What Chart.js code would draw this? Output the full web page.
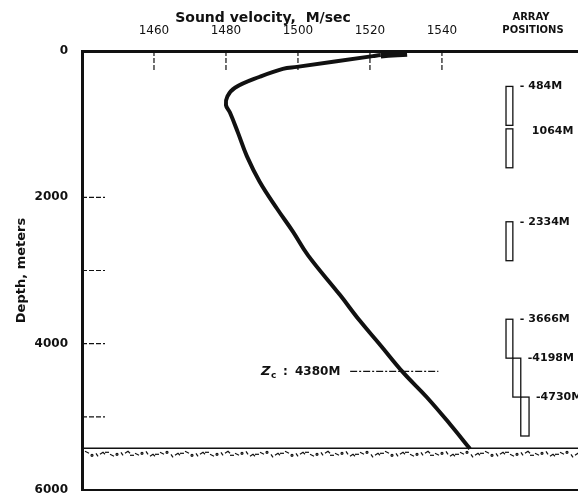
<!DOCTYPE html>
<html>
<head>
<meta charset="utf-8">
<script src="https://cdn.jsdelivr.net/npm/chart.js@4.4.1/dist/chart.umd.min.js"></script>
<style>
  html, body { margin: 0; padding: 0; background: #fff; }
</style>
</head>
<body>
<canvas id="profile" width="578" height="493"></canvas>
<script>
// Sound velocity profile
const velocity = [1530.3, 1523, 1520.8, 1499.7, 1495.8, 1489.4, 1482.5, 1480.4, 1480.0, 1481.1,
  1483.3, 1485.8, 1489.4, 1494.2, 1498.6, 1502.8, 1511.7, 1517.2, 1522.8, 1529.2,
  1535.8, 1542.2, 1547.8];
const depth = [30, 55, 70, 217, 244, 352, 502, 620, 740, 841,
  1112, 1437, 1790, 2156, 2468, 2793, 3336, 3688, 4014, 4393,
  4732, 5098, 5437];

const velocityTicks = [1460, 1480, 1500, 1520, 1540];
const depthTicks = [0, 2000, 4000, 6000];
const depthMarks = [2000, 3000, 4000, 5000];

// Hydrophone array positions (top depth of each section)
const arrayTops = [484, 1064, 2334, 3666, 4198, 4730];
const arrayLength = 532;
const arrayLabels = ['- 484M', '1064M', '- 2334M', '- 3666M', '-4198M', '-4730M'];

const criticalDepth = 4380;
const criticalLabel = '4380M';
const seafloorDepth = 5430;

const INK = '#111';
const FONT = "'DejaVu Sans', sans-serif";

const decor = {
  id: 'decor',
  beforeDatasetsDraw(chart) {
    const { ctx, chartArea: a, scales: { y } } = chart;
    // sea floor line with sediment stipple
    const fy = y.getPixelForValue(seafloorDepth);
    ctx.save();
    ctx.strokeStyle = INK;
    ctx.lineWidth = 1.5;
    ctx.beginPath();
    ctx.moveTo(a.left, fy);
    ctx.lineTo(a.right, fy);
    ctx.stroke();
    ctx.lineWidth = 1.2;
    for (let px = a.left + 3, k = 0; px < a.right; px += 5, k++) {
      const h = (k * 7) % 5;
      const oy = fy + 3 + ((k * 3) % 4);
      ctx.beginPath();
      if (h === 0) { ctx.moveTo(px, oy); ctx.lineTo(px + 4, oy + 2); }
      else if (h === 1) { ctx.moveTo(px, oy + 2); ctx.lineTo(px + 3, oy); ctx.lineTo(px + 5, oy + 2); }
      else if (h === 2) { ctx.arc(px + 2, oy + 1, 1, 0, Math.PI * 2); }
      else if (h === 3) { ctx.moveTo(px, oy + 1); ctx.lineTo(px + 4, oy + 1); }
      else { ctx.moveTo(px + 1, oy); ctx.lineTo(px + 3, oy + 3); }
      ctx.stroke();
    }
    ctx.restore();
  },
  afterDraw(chart) {
    const { ctx, chartArea: a, scales: { x, y } } = chart;
    ctx.save();
    ctx.strokeStyle = INK;
    ctx.fillStyle = INK;

    // bottom frame line
    ctx.lineWidth = 2;
    ctx.beginPath();
    ctx.moveTo(a.left - 1, a.bottom);
    ctx.lineTo(a.right, a.bottom);
    ctx.stroke();

    // inward tick marks
    ctx.lineWidth = 1.2;
    ctx.setLineDash([5, 2]);
    velocityTicks.forEach((v) => {
      const px = x.getPixelForValue(v);
      ctx.beginPath();
      ctx.moveTo(px, a.top);
      ctx.lineTo(px, a.top + 20);
      ctx.stroke();
    });
    depthMarks.forEach((d) => {
      const py = y.getPixelForValue(d);
      ctx.beginPath();
      ctx.moveTo(a.left, py);
      ctx.lineTo(a.left + 23, py);
      ctx.stroke();
    });

    // critical depth marker
    const zy = y.getPixelForValue(criticalDepth);
    ctx.setLineDash([7, 2, 2, 2]);
    ctx.beginPath();
    ctx.moveTo(x.getPixelForValue(1514.5), zy);
    ctx.lineTo(x.getPixelForValue(1539), zy);
    ctx.stroke();
    ctx.setLineDash([]);
    ctx.textBaseline = 'middle';
    ctx.textAlign = 'left';
    ctx.font = `italic bold 13px ${FONT}`;
    ctx.fillText('Z', 261, zy);
    ctx.font = `bold 9px ${FONT}`;
    ctx.fillText('c', 271, zy + 4);
    ctx.font = `bold 12px ${FONT}`;
    ctx.fillText(':', 283, zy);
    ctx.fillText(criticalLabel, 295, zy);

    // axis title
    ctx.textAlign = 'center';
    ctx.font = `bold 14px ${FONT}`;
    ctx.fillText('Sound velocity,  M/sec', 263, 18);
    ctx.font = `bold 10px ${FONT}`;
    ctx.fillText('ARRAY', 531, 17);
    ctx.fillText('POSITIONS', 533, 30);

    // array sections
    const cols = [[1557.8, 1559.7], [1557.8, 1559.7], [1557.8, 1559.7],
      [1557.8, 1559.7], [1559.7, 1561.9], [1561.9, 1564.2]];
    ctx.lineWidth = 1.3;
    ctx.textAlign = 'left';
    ctx.font = `bold 11px ${FONT}`;
    arrayTops.forEach((top, i) => {
      const x0 = x.getPixelForValue(cols[i][0]);
      const x1 = x.getPixelForValue(cols[i][1]);
      const y0 = y.getPixelForValue(top);
      const y1 = y.getPixelForValue(top + arrayLength);
      ctx.strokeRect(x0, y0, x1 - x0, y1 - y0);
      const ly = i === 1 ? y0 + 2 : y0;
      ctx.fillText(arrayLabels[i], x1 + (i === 1 ? 19 : 7), ly);
    });
    ctx.restore();
  },
};

new Chart(document.getElementById('profile'), {
  type: 'line',
  data: {
    datasets: [
      {
        data: velocity.map((v, i) => ({ x: v, y: depth[i] })),
        borderColor: INK,
        borderWidth: 4,
        pointRadius: 0,
        tension: 0.4,
        segment: {
          borderWidth: (c) => (c.p0DataIndex === 0 ? 7 : 4),
        },
      },
    ],
  },
  options: {
    responsive: false,
    animation: false,
    devicePixelRatio: 1,
    layout: { padding: { top: 0, left: 0, right: 0, bottom: 3 } },
    plugins: { legend: { display: false }, tooltip: { enabled: false } },
    scales: {
      x: {
        type: 'linear',
        position: 'top',
        min: 1440,
        max: 1577.8,
        afterBuildTicks: (s) => { s.ticks = velocityTicks.map((v) => ({ value: v })); },
        afterFit: (s) => { s.height = 51; s.paddingLeft = 0; s.paddingRight = 0; },
        grid: { display: false },
        border: { display: true, color: INK, width: 3 },
        ticks: {
          color: INK,
          padding: 5,
          maxRotation: 0,
          autoSkip: false,
          callback: (v) => String(v),
          font: { family: FONT, size: 12 },
        },
      },
      y: {
        type: 'linear',
        reverse: true,
        min: 0,
        max: 6000,
        afterBuildTicks: (s) => { s.ticks = depthTicks.map((v) => ({ value: v })); },
        afterFit: (s) => { s.width = 82; s.paddingTop = 0; s.paddingBottom = 0; },
        grid: { display: false },
        border: { display: true, color: INK, width: 3 },
        ticks: {
          color: INK,
          padding: 6,
          autoSkip: false,
          callback: (v) => String(v),
          font: { family: FONT, size: 12, weight: 'bold' },
        },
        title: {
          display: true,
          text: 'Depth, meters',
          color: INK,
          padding: { top: 14, bottom: 0 },
          font: { family: FONT, size: 13, weight: 'bold' },
        },
      },
    },
  },
  plugins: [decor],
});
</script>
</body>
</html>
